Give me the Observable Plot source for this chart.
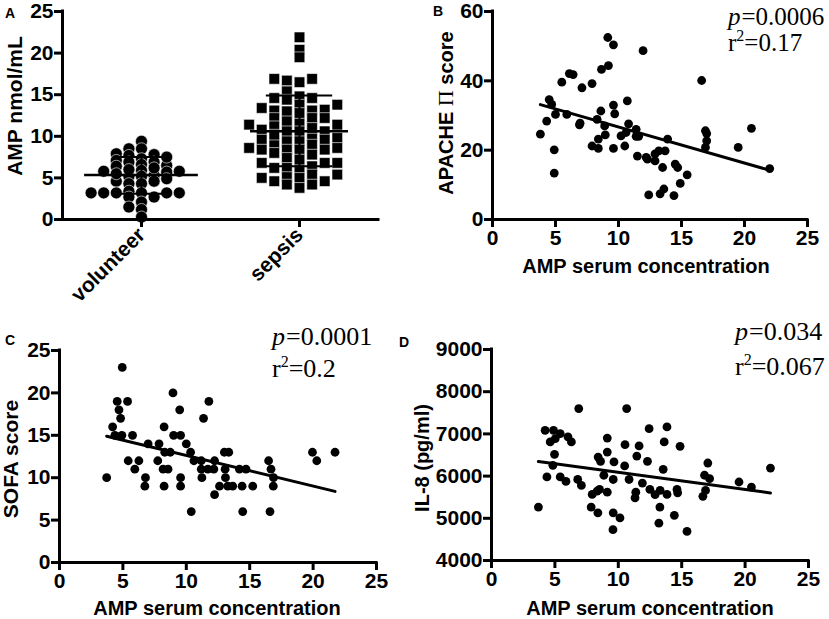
<!DOCTYPE html>
<html><head><meta charset="utf-8">
<script src="https://cdn.jsdelivr.net/npm/d3@7"></script>
<script src="https://cdn.jsdelivr.net/npm/@observablehq/plot@0.6"></script>
<style>
body{margin:0;background:#fff;}
#fig{position:relative;width:829px;height:619px;overflow:hidden;background:#fff;}
#fig svg{position:absolute;overflow:visible;}
</style></head><body><div id="fig"></div>
<script>
// ---------- DATA ----------
const groups = ["volunteer", "sepsis"];
const volunteerAMP = [9.4,8.5,8.5,7.7,7.9,7.8,7.3,7.1,6.9,6.9,6.6,6.4,6.5,5.8,5.7,5.9,5.8,5.2,5.3,5.2,4.6,4.6,4.3,4.3,3.2,3.2,3.2,3.2,3.2,3.2,3.4,2.7,2.7,2.1,1.5,1.2,0.3,7.5,6.0,4.9,5.5,6.2];
const sepsisAMP = [21.9,20.4,19.5,16.7,16.5,16.9,16.9,14.8,15.4,14.4,14.6,14.6,13.8,13.1,13.0,13.4,13.8,13.2,13.1,12.2,12.2,12.2,11.4,11.4,11.6,11.2,11.8,10.8,10.6,10.6,10.6,10.0,9.8,9.6,9.6,9.4,9.4,9.2,9.0,8.6,8.4,8.6,8.4,8.4,8.4,8.0,7.8,7.4,6.8,6.8,6.8,6.4,6.2,6.2,6.0,5.1,5.0,5.4,5.4,5.0,4.6,4.6,4.2,4.2,3.8,12.8,10.2,7.2,11.0];
// centre line and error-bar ends
const groupCenter = [5.35, 10.6];
const groupUpper = [7.5, 14.9];
const groupLower = [3.1, 6.4];

const bAmp =    [3.8,4.3,4.5,4.7,5.0,4.9,4.9,5.5,6.1,6.4,5.9,6.9,6.95,7.1,7.9,7.9,8.4,8.6,8.3,8.4,8.65,9.2,9.15,9.6,8.95,8.9,9.6,9.7,9.6,10.2,10.5,10.7,10.8,10.6,11.4,11.4,11.6,11.5,11.95,12.4,12.3,12.2,12.9,13.2,13.7,13.5,12.9,14.5,14.7,15.45,14.9,13.6,13.3,14.4,16.6,16.9,17.0,17.0,16.9,19.5,20.55,22.0,13.9];
const bApache = [24.6,28.4,34.6,33.2,30.3,20.1,13.4,39.6,42.1,41.8,30.3,27.3,27.8,38.0,39.2,21.2,20.5,31.3,28.9,23.2,43.3,44.4,52.5,50.4,24.4,27.0,33.0,30.5,20.5,24.1,21.2,34.2,27.6,25.1,26.0,24.0,24.0,18.3,48.7,7.1,17.4,17.9,18.9,19.8,19.8,15.0,16.9,16.0,15.0,12.9,10.4,8.8,7.4,6.9,40.1,25.6,24.8,22.7,20.8,20.8,26.3,14.7,23.2];

const cAmp =  [3.72,4.19,4.55,4.69,4.82,4.37,4.92,4.95,5.37,5.42,5.76,5.94,6.26,6.78,6.73,6.99,7.85,7.75,8.25,8.3,8.17,8.56,8.25,8.74,8.95,9.0,9.48,9.55,9.55,9.55,10.0,10.34,10.39,10.6,11.18,11.23,11.36,11.78,11.18,11.7,12.23,12.23,12.17,12.62,13.0,13.35,13.06,13.09,13.27,13.66,14.19,14.4,14.71,14.45,15.24,16.49,16.6,16.68,16.88,16.86,19.95,20.29,21.73];
const cSofa = [10,16,19,18,17,15,15,23,19,12,15,11,12,10,9,14,14,12,16,13,11,11,9,13,20,15,18,15,10,9,14,13,6,12,11,10,17,19,12,11,12,8,11,9,13,13,11,10,9,9,11,9,11,6,9,12,6,11,10,9,13,12,13];

const dAmp = [3.7,4.23,4.37,4.63,4.89,4.97,4.84,5.03,5.42,5.42,5.87,6.03,6.3,6.88,6.8,7.09,7.86,7.94,8.39,8.33,8.41,8.6,8.52,8.86,9.13,9.13,9.13,9.58,9.6,9.66,9.6,10.13,10.5,10.66,10.53,10.85,11.38,11.32,11.46,11.64,11.9,12.43,12.3,12.49,12.9,13.2,13.28,13.3,13.54,13.62,13.84,13.84,14.42,14.63,14.68,14.87,15.42,16.67,16.8,16.88,17.06,17.2,19.52,20.5,22.0];
const dIL8 = [5266,7085,5980,6810,7085,6515,6255,6890,7005,5980,5875,6930,6810,7600,5920,5780,5265,5565,5130,5645,6450,6350,5685,6020,6570,6900,5620,4730,5130,6335,5920,5010,6240,7600,6745,5920,5620,5485,6475,6715,5835,7125,6350,5685,5560,4885,5265,5660,6160,6810,7165,5565,5070,5685,5605,6705,4690,5520,6020,5660,6310,5940,5860,5740,6190];

const xTicks = [0,5,10,15,20,25];
const stats = {
  B: {p: "0.0006", r2: "0.17"},
  C: {p: "0.0001", r2: "0.2"},
  D: {p: "0.034", r2: "0.067"}
};

// ---------- HELPERS ----------
const fig = document.getElementById("fig");
const SANS = "'Liberation Sans', Arial, sans-serif";
const SERIF = "'Liberation Serif', 'Times New Roman', serif";
const baseStyle = {fontFamily: SANS, fontSize: "21px", fontWeight: "bold", color: "black", background: "transparent", overflow: "visible"};
function place(svg, left, top) { svg.style.left = left + "px"; svg.style.top = top + "px"; fig.appendChild(svg); return d3.select(svg); }
function txt(sel, x, y, s, o = {}) {
  const t = sel.append("text").attr("fill", "black")
    .attr("font-family", o.family || SANS).attr("font-size", o.size || 20)
    .attr("font-weight", o.weight || "bold").attr("text-anchor", o.anchor || "start");
  if (o.italic) t.attr("font-style", "italic");
  if (o.rotate) t.attr("transform", `translate(${x},${y}) rotate(-90)`).attr("text-anchor", "middle");
  else t.attr("x", x).attr("y", y);
  if (s != null) t.text(s);
  return t;
}
// "p=…" and "r²=…" built from separate text runs placed side by side
function annot(sel, x, y1, y2, st, size = 26) {
  const o = {family: SERIF, size, weight: "normal"};
  const p = txt(sel, x, y1, "p", {...o, italic: true});
  txt(sel, x + p.node().getComputedTextLength() + 1, y1, "=" + st.p, o);
  const r = txt(sel, x, y2, "r", o);
  const rw = r.node().getComputedTextLength();
  const sup = txt(sel, x + rw, y2 - 10, "2", {...o, size: 16});
  txt(sel, x + rw + sup.node().getComputedTextLength(), y2, "=" + st.r2, o);
}
const axOpts = {tickSize: 8, strokeWidth: 3, fontSize: 21, fontWeight: "bold", label: null};

// simple column-scatter layout: lane index for each value
function lanes(values, pxPerUnit, minDist) {
  const order = d3.range(values.length).sort((a, b) => values[a] - values[b]);
  const placed = [], out = new Array(values.length);
  for (const i of order) {
    const y = values[i] * pxPerUnit;
    for (let k = 0; ; k++) {
      const l = k === 0 ? 0 : (k % 2 ? -Math.ceil(k / 2) : Math.ceil(k / 2));
      if (placed.every(p => p.l !== l || Math.abs(p.y - y) >= minDist)) { placed.push({l, y}); out[i] = l; break; }
    }
  }
  return out;
}

// ---------- PANEL A ----------
{
  const W = 415, H = 300, mL = 62, mR = 37, mT = 11, mB = 81;
  const xPx = (W - mL - mR) / 2, yPx = (H - mT - mB) / 25;
  const laneW = 12.6 / xPx;
  const lv = lanes(volunteerAMP, yPx, 5.5), ls = lanes(sepsisAMP, yPx, 7);
  const vol = volunteerAMP.map((v, i) => ({x: 0 + lv[i] * laneW, v}));
  const sep = sepsisAMP.map((v, i) => ({x: 1 + ls[i] * laneW, v}));
  const summ = groups.map((g, i) => ({i, c: groupCenter[i], hi: groupUpper[i], lo: groupLower[i]}));
  const meanHalf = [0.36, 0.31], sdHalf = [0.17, 0.21];
  const svg = Plot.plot({
    width: W, height: H, marginLeft: mL, marginRight: mR, marginTop: mT, marginBottom: mB,
    style: baseStyle,
    x: {domain: [-0.5, 1.5]}, y: {domain: [0, 25]},
    marks: [
      Plot.dot(vol, {x: "x", y: "v", r: 6, fill: "black", stroke: "white", strokeWidth: 0.6}),
      Plot.dot(sep, {x: "x", y: "v", r: 6, symbol: "square", fill: "black", stroke: "white", strokeWidth: 0.6}),
      Plot.ruleY(summ, {y: "c", x1: d => d.i - meanHalf[d.i], x2: d => d.i + meanHalf[d.i], strokeWidth: 2.5}),
      Plot.ruleY(summ, {y: "hi", x1: d => d.i - sdHalf[d.i], x2: d => d.i + sdHalf[d.i], strokeWidth: 2}),
      Plot.ruleY(summ, {y: "lo", x1: d => d.i - sdHalf[d.i], x2: d => d.i + sdHalf[d.i], strokeWidth: 2}),
      Plot.ruleX(summ, {x: "i", y1: "lo", y2: "hi", strokeWidth: 2}),
      Plot.ruleX([-0.5], {strokeWidth: 3, strokeLinecap: "square"}),
      Plot.ruleY([0], {strokeWidth: 3, strokeLinecap: "square"}),
      Plot.axisY({...axOpts, ticks: [0, 5, 10, 15, 20, 25], tickPadding: 1}),
      Plot.axisX({...axOpts, ticks: [0, 1], tickFormat: i => groups[i], tickRotate: -45, tickPadding: 4})
    ]
  });
  const s = place(svg, 0, 0);
  txt(s, 5, 18, "A", {size: 14});
  txt(s, 22, 106, "AMP nmol/mL", {rotate: true, size: 21});
}

// ---------- SCATTER PANELS ----------
function scatter(xs, ys, yDomain, yTicks, W, H, mL, mR, mT, mB) {
  const data = xs.map((x, i) => ({x, y: ys[i]}));
  return Plot.plot({
    width: W, height: H, marginLeft: mL, marginRight: mR, marginTop: mT, marginBottom: mB,
    style: baseStyle,
    x: {domain: [0, 25]}, y: {domain: yDomain},
    marks: [
      Plot.dot(data, {x: "x", y: "y", r: 4.4, fill: "black"}),
      Plot.linearRegressionY(data, {x: "x", y: "y", ci: 0, stroke: "black", strokeWidth: 3}),
      Plot.ruleX([0], {strokeWidth: 3, strokeLinecap: "square"}),
      Plot.ruleY([yDomain[0]], {strokeWidth: 3, strokeLinecap: "square"}),
      Plot.axisY({...axOpts, ticks: yTicks, tickFormat: d => String(d), tickPadding: 1}),
      Plot.axisX({...axOpts, ticks: xTicks, tickFormat: d => String(d), tickPadding: 3})
    ]
  });
}

{ // B
  const svg = scatter(bAmp, bApache, [0, 60], [0, 20, 40, 60], 409, 300, 72, 22, 11, 81);
  const s = place(svg, 420, 0);
  txt(s, 13, 16, "B", {size: 14});
  const t = txt(s, 33, 113, null, {rotate: true});
  t.append("tspan").text("APACHE ");
  t.append("tspan").attr("font-family", SERIF).attr("font-weight", "normal").attr("font-size", 22).text("Π");
  t.append("tspan").text(" score");
  txt(s, 226, 273, "AMP serum concentration", {anchor: "middle"});
  annot(s, 308, 25, 51, stats.B, 25);
}
{ // C
  const svg = scatter(cAmp, cSofa, [0, 25], [0, 5, 10, 15, 20, 25], 415, 319, 59, 39, 50, 57);
  const s = place(svg, 0, 300);
  txt(s, 5, 45, "C", {size: 14});
  txt(s, 399, 47, "D", {size: 14});
  txt(s, 18, 159, "SOFA score", {rotate: true, size: 21});
  txt(s, 217, 315, "AMP serum concentration", {anchor: "middle"});
  annot(s, 272, 45, 77, stats.C);
}
{ // D
  const svg = scatter(dAmp, dIL8, [4000, 9000], [4000, 5000, 6000, 7000, 8000, 9000], 409, 319, 71, 21, 49, 59);
  const s = place(svg, 420, 300);
  txt(s, 9, 158, "IL-8 (pg/ml)", {rotate: true});
  txt(s, 230, 315, "AMP serum concentration", {anchor: "middle"});
  annot(s, 315, 40, 75, stats.D);
}
</script></body></html>
